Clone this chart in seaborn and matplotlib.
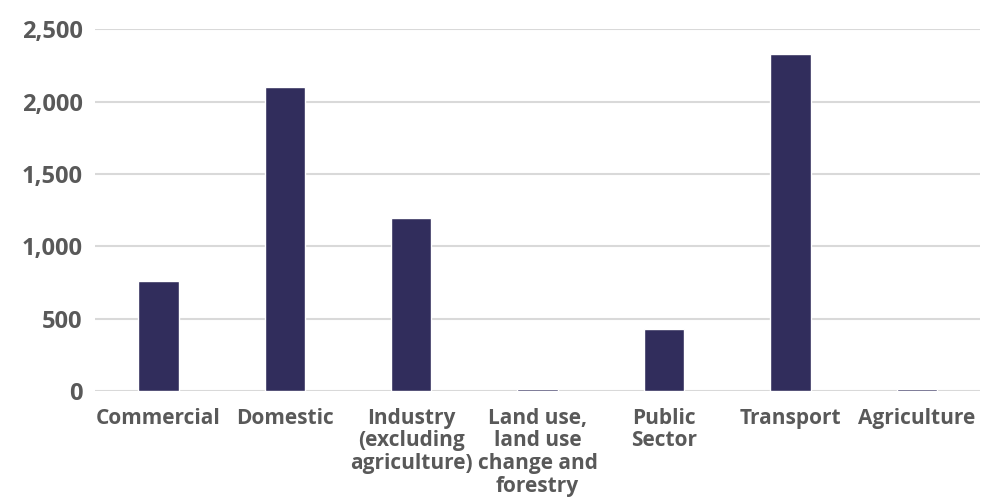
import matplotlib
matplotlib.use("Agg")
import matplotlib.pyplot as plt
import seaborn as sns
import pandas as pd

# data
sectors = ["Commercial", "Domestic", "Industry\n(excluding\nagriculture)",
           "Land use,\nland use\nchange and\nforestry", "Public\nSector",
           "Transport", "Agriculture"]
values = [760, 2100, 1197, 12, 432, 2332, 12]
y_ticks = [0, 500, 1000, 1500, 2000, 2500]

df = pd.DataFrame({"sector": sectors, "value": values})

sns.set_style("white")
plt.rcParams['font.family'] = ['Open Sans', 'DejaVu Sans']

bar_color = "#312d5c"
text_color = "#595959"

fig, ax = plt.subplots(figsize=(9.82, 5.04), dpi=100)
fig.subplots_adjust(left=0.097, right=0.998, top=0.942, bottom=0.224)

sns.barplot(data=df, x="sector", y="value", color=bar_color, width=0.32,
            saturation=1, ax=ax)

ax.set_ylim(0, 2500)
ax.set_yticks(y_ticks)
ax.set_yticklabels([f"{v:,}" for v in y_ticks])
ax.grid(axis="y", color="#d9d9d9", linewidth=1.5)
ax.set_axisbelow(True)
sns.despine(ax=ax, left=True, bottom=True)
ax.set_xlabel("")
ax.set_ylabel("")
ax.tick_params(axis="both", length=0, colors=text_color)
ax.tick_params(axis="y", pad=9, labelsize=17)
ax.tick_params(axis="x", pad=12, labelsize=15)
for lab in ax.get_xticklabels():
    lab.set_fontweight("bold")
    lab.set_linespacing(1.1)
for lab in ax.get_yticklabels():
    lab.set_fontweight("bold")

plt.savefig("out.png", dpi=100)
